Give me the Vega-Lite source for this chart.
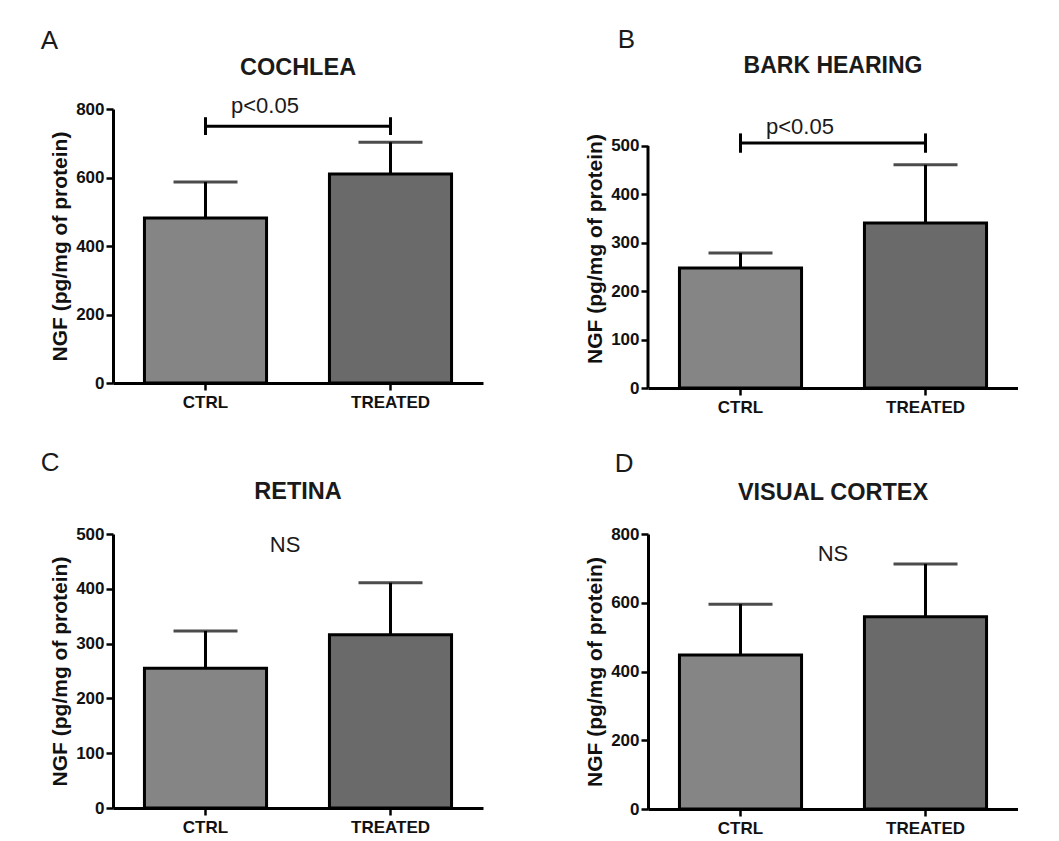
{
  "$schema": "https://vega.github.io/schema/vega-lite/v6.json",
  "background": "white",
  "padding": {"left": 40, "top": 26, "right": 0, "bottom": 0},
  "columns": 2,
  "spacing": {"row": 34, "column": 101},
  "concat": [
    {
      "title": {"text": "A", "anchor": "start", "frame": "bounds", "dx": -9, "offset": 2, "fontSize": 26, "fontWeight": "normal", "color": "#1a1a1a"},
      "width": 370, "height": 274,
      "data": {"values": [{"group": "CTRL", "mean": 482, "upper": 587}, {"group": "TREATED", "mean": 610, "upper": 703}]},
      "layer": [
        {"mark": {"type": "bar", "width": {"band": 0.66}, "stroke": "black", "strokeWidth": 3},
         "encoding": {
           "x": {"field": "group", "type": "nominal", "scale": {"domain": ["CTRL", "TREATED"], "paddingInner": 0, "paddingOuter": 0}, "axis": {"title": null, "labelAngle": 0, "bandPosition": 0.5}},
           "y": {"field": "mean", "type": "quantitative", "scale": {"domain": [0, 800], "nice": false}, "axis": {"title": "NGF (pg/mg of protein)", "values": [0, 200, 400, 600, 800]}},
           "color": {"field": "group", "type": "nominal", "scale": {"domain": ["CTRL", "TREATED"], "range": ["#858585", "#6a6a6a"]}, "legend": null}}},
        {"mark": {"type": "rule", "color": "black", "strokeWidth": 3},
         "encoding": {"x": {"field": "group", "type": "nominal"}, "y": {"field": "mean", "type": "quantitative"}, "y2": {"field": "upper"}}},
        {"mark": {"type": "tick", "color": "black", "thickness": 3, "size": 64},
         "encoding": {"x": {"field": "group", "type": "nominal"}, "y": {"field": "upper", "type": "quantitative"}}},
        {"data": {"values": [{}]}, "mark": {"type": "rule", "color": "black", "strokeWidth": 3},
         "encoding": {"x": {"datum": "CTRL"}, "x2": {"datum": "TREATED"}, "y": {"datum": 750}}},
        {"data": {"values": [{}]}, "mark": {"type": "rule", "color": "black", "strokeWidth": 3},
         "encoding": {"x": {"datum": "CTRL"}, "y": {"datum": 724}, "y2": {"datum": 776}}},
        {"data": {"values": [{}]}, "mark": {"type": "rule", "color": "black", "strokeWidth": 3},
         "encoding": {"x": {"datum": "TREATED"}, "y": {"datum": 724}, "y2": {"datum": 776}}},
        {"data": {"values": [{}]}, "mark": {"type": "text", "text": "p<0.05", "align": "left", "baseline": "middle", "fontSize": 22, "color": "#1a1a1a"},
         "encoding": {"x": {"datum": "CTRL", "bandPosition": 0.638}, "y": {"datum": 809}}},
        {"data": {"values": [{}]}, "mark": {"type": "text", "text": "COCHLEA", "align": "center", "baseline": "middle", "fontSize": 23.5, "fontWeight": "bold", "color": "#1a1a1a"},
         "encoding": {"x": {"datum": "TREATED", "bandPosition": 0}, "y": {"datum": 920}}}
      ]
    },
    {
      "title": {"text": "B", "anchor": "start", "frame": "bounds", "dx": 33, "offset": 2, "fontSize": 26, "fontWeight": "normal", "color": "#1a1a1a"},
      "width": 370, "height": 279,
      "data": {"values": [{"group": "CTRL", "mean": 248, "upper": 279}, {"group": "TREATED", "mean": 341, "upper": 461}]},
      "layer": [
        {"mark": {"type": "bar", "width": {"band": 0.66}, "stroke": "black", "strokeWidth": 3},
         "encoding": {
           "x": {"field": "group", "type": "nominal", "scale": {"domain": ["CTRL", "TREATED"], "paddingInner": 0, "paddingOuter": 0}, "axis": {"title": null, "labelAngle": 0, "bandPosition": 0.5}},
           "y": {"field": "mean", "type": "quantitative", "scale": {"domain": [0, 576.4], "nice": false}, "axis": {"title": "NGF (pg/mg of protein)", "values": [0, 100, 200, 300, 400, 500], "domain": false}},
           "color": {"field": "group", "type": "nominal", "scale": {"domain": ["CTRL", "TREATED"], "range": ["#858585", "#6a6a6a"]}, "legend": null}}},
        {"data": {"values": [{}]}, "mark": {"type": "rule", "color": "black", "strokeWidth": 3},
         "encoding": {"x": {"datum": "CTRL", "bandPosition": 0}, "y": {"datum": 0}, "y2": {"datum": 500}}},
        {"mark": {"type": "rule", "color": "black", "strokeWidth": 3},
         "encoding": {"x": {"field": "group", "type": "nominal"}, "y": {"field": "mean", "type": "quantitative"}, "y2": {"field": "upper"}}},
        {"mark": {"type": "tick", "color": "black", "thickness": 3, "size": 64},
         "encoding": {"x": {"field": "group", "type": "nominal"}, "y": {"field": "upper", "type": "quantitative"}}},
        {"data": {"values": [{}]}, "mark": {"type": "rule", "color": "black", "strokeWidth": 3},
         "encoding": {"x": {"datum": "CTRL"}, "x2": {"datum": "TREATED"}, "y": {"datum": 506}}},
        {"data": {"values": [{}]}, "mark": {"type": "rule", "color": "black", "strokeWidth": 3},
         "encoding": {"x": {"datum": "CTRL"}, "y": {"datum": 486}, "y2": {"datum": 526}}},
        {"data": {"values": [{}]}, "mark": {"type": "rule", "color": "black", "strokeWidth": 3},
         "encoding": {"x": {"datum": "TREATED"}, "y": {"datum": 486}, "y2": {"datum": 526}}},
        {"data": {"values": [{}]}, "mark": {"type": "text", "text": "p<0.05", "align": "left", "baseline": "middle", "fontSize": 22, "color": "#1a1a1a"},
         "encoding": {"x": {"datum": "CTRL", "bandPosition": 0.638}, "y": {"datum": 539}}},
        {"data": {"values": [{}]}, "mark": {"type": "text", "text": "BARK HEARING", "align": "center", "baseline": "middle", "fontSize": 23, "fontWeight": "bold", "color": "#1a1a1a"},
         "encoding": {"x": {"datum": "TREATED", "bandPosition": 0}, "y": {"datum": 666}}}
      ]
    },
    {
      "title": {"text": "C", "anchor": "start", "frame": "bounds", "dx": -9, "offset": 4, "fontSize": 26, "fontWeight": "normal", "color": "#1a1a1a"},
      "width": 370, "height": 274,
      "data": {"values": [{"group": "CTRL", "mean": 255, "upper": 323}, {"group": "TREATED", "mean": 316, "upper": 411}]},
      "layer": [
        {"mark": {"type": "bar", "width": {"band": 0.66}, "stroke": "black", "strokeWidth": 3},
         "encoding": {
           "x": {"field": "group", "type": "nominal", "scale": {"domain": ["CTRL", "TREATED"], "paddingInner": 0, "paddingOuter": 0}, "axis": {"title": null, "labelAngle": 0, "bandPosition": 0.5}},
           "y": {"field": "mean", "type": "quantitative", "scale": {"domain": [0, 500], "nice": false}, "axis": {"title": "NGF (pg/mg of protein)", "values": [0, 100, 200, 300, 400, 500]}},
           "color": {"field": "group", "type": "nominal", "scale": {"domain": ["CTRL", "TREATED"], "range": ["#858585", "#6a6a6a"]}, "legend": null}}},
        {"mark": {"type": "rule", "color": "black", "strokeWidth": 3},
         "encoding": {"x": {"field": "group", "type": "nominal"}, "y": {"field": "mean", "type": "quantitative"}, "y2": {"field": "upper"}}},
        {"mark": {"type": "tick", "color": "black", "thickness": 3, "size": 64},
         "encoding": {"x": {"field": "group", "type": "nominal"}, "y": {"field": "upper", "type": "quantitative"}}},
        {"data": {"values": [{}]}, "mark": {"type": "text", "text": "NS", "align": "center", "baseline": "middle", "fontSize": 22, "color": "#1a1a1a"},
         "encoding": {"x": {"datum": "CTRL", "bandPosition": 0.93}, "y": {"datum": 480}}},
        {"data": {"values": [{}]}, "mark": {"type": "text", "text": "RETINA", "align": "center", "baseline": "middle", "fontSize": 23.5, "fontWeight": "bold", "color": "#1a1a1a"},
         "encoding": {"x": {"datum": "TREATED", "bandPosition": 0}, "y": {"datum": 577}}}
      ]
    },
    {
      "title": {"text": "D", "anchor": "start", "frame": "bounds", "dx": 30, "offset": 4, "fontSize": 26, "fontWeight": "normal", "color": "#1a1a1a"},
      "width": 370, "height": 275,
      "data": {"values": [{"group": "CTRL", "mean": 448, "upper": 596}, {"group": "TREATED", "mean": 559, "upper": 713}]},
      "layer": [
        {"mark": {"type": "bar", "width": {"band": 0.66}, "stroke": "black", "strokeWidth": 3},
         "encoding": {
           "x": {"field": "group", "type": "nominal", "scale": {"domain": ["CTRL", "TREATED"], "paddingInner": 0, "paddingOuter": 0}, "axis": {"title": null, "labelAngle": 0, "bandPosition": 0.5}},
           "y": {"field": "mean", "type": "quantitative", "scale": {"domain": [0, 800], "nice": false}, "axis": {"title": "NGF (pg/mg of protein)", "values": [0, 200, 400, 600, 800]}},
           "color": {"field": "group", "type": "nominal", "scale": {"domain": ["CTRL", "TREATED"], "range": ["#858585", "#6a6a6a"]}, "legend": null}}},
        {"mark": {"type": "rule", "color": "black", "strokeWidth": 3},
         "encoding": {"x": {"field": "group", "type": "nominal"}, "y": {"field": "mean", "type": "quantitative"}, "y2": {"field": "upper"}}},
        {"mark": {"type": "tick", "color": "black", "thickness": 3, "size": 64},
         "encoding": {"x": {"field": "group", "type": "nominal"}, "y": {"field": "upper", "type": "quantitative"}}},
        {"data": {"values": [{}]}, "mark": {"type": "text", "text": "NS", "align": "center", "baseline": "middle", "fontSize": 22, "color": "#1a1a1a"},
         "encoding": {"x": {"datum": "TREATED", "bandPosition": 0}, "y": {"datum": 742}}},
        {"data": {"values": [{}]}, "mark": {"type": "text", "text": "VISUAL CORTEX", "align": "center", "baseline": "middle", "fontSize": 23.5, "fontWeight": "bold", "color": "#1a1a1a"},
         "encoding": {"x": {"datum": "TREATED", "bandPosition": 0}, "y": {"datum": 919}}}
      ]
    }
  ],
  "config": {
    "font": "Liberation Sans",
    "view": {"stroke": null},
    "axis": {"domainColor": "#000", "domainWidth": 3, "tickColor": "#000", "tickWidth": 2.5, "tickSize": 7, "labelFont": "Liberation Sans", "labelFontSize": 17, "labelFontWeight": "bold", "labelColor": "#111", "titleFont": "Liberation Sans", "titleFontSize": 21, "titleFontWeight": "bold", "titleColor": "#111", "grid": false},
    "axisX": {"labelPadding": 4},
    "axisY": {"labelPadding": 2, "titlePadding": 5, "labelFlush": false}
  }
}
